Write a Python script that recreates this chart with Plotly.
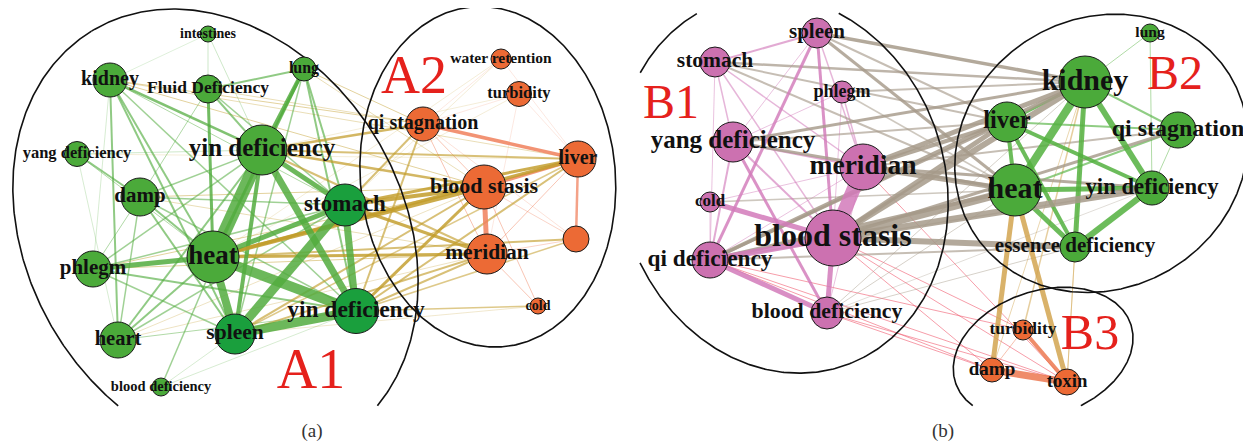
import numpy as np
import plotly.graph_objects as go

# ---------------- data: panel (a) ----------------
a_ids = ["int", "kid", "flu", "lun", "yang", "yint", "dam", "sto", "hea", "phl", "yinb", "spl", "hrt", "bld",
         "wat", "tur", "qis", "liv", "bst", "unk", "mer", "col"]
a_labels = ["intestines", "kidney", "Fluid Deficiency", "lung", "yang deficiency", "yin deficiency", "damp",
            "stomach", "heat", "phlegm", "yin deficiency", "spleen", "heart", "blood deficiency",
            "water retention", "turbidity", "qi stagnation", "liver", "blood stasis", "", "meridian", "cold"]
a_x = [208, 110, 208, 304, 77, 262, 140, 345, 213, 93, 356, 235, 118, 161, 501, 519, 423, 578, 484, 576, 487, 538]
a_y = [34, 80, 89, 69, 154, 150, 197, 205, 257, 269, 311, 334, 340, 387, 59, 94, 124, 159, 187, 239, 254, 306]
a_size = [8, 17, 14, 12, 12.5, 25, 19, 21, 26, 18, 22.5, 20, 18, 9, 10, 12.5, 17, 18, 22, 13, 20, 8]
a_group = ["g", "g", "g", "g", "g", "g", "g", "d", "g", "g", "d", "d", "g", "g",
           "o", "o", "o", "o", "o", "o", "o", "o"]

a_green_edges = [
    ("yint", "hea", 13), ("yint", "yinb", 7), ("yint", "sto", 5), ("yint", "spl", 4),
    ("hea", "spl", 8), ("hea", "yinb", 10), ("hea", "sto", 5), ("spl", "sto", 9), ("spl", "yinb", 9),
    ("sto", "yinb", 7), ("phl", "hea", 5), ("lun", "yint", 4), ("lun", "hea", 3), ("lun", "sto", 2),
    ("lun", "yinb", 2), ("lun", "spl", 1.5), ("lun", "flu", 2), ("flu", "hea", 3), ("flu", "yint", 2),
    ("flu", "sto", 1.5), ("flu", "dam", 1), ("kid", "yint", 2.5), ("kid", "hea", 2), ("kid", "hrt", 2),
    ("kid", "spl", 2), ("kid", "yinb", 1.5), ("kid", "sto", 1), ("dam", "hea", 2), ("dam", "yint", 1.5),
    ("dam", "spl", 2), ("dam", "yinb", 1.5), ("dam", "sto", 1.5), ("dam", "hrt", 1.5), ("dam", "phl", 1),
    ("phl", "yinb", 2), ("phl", "spl", 1.5), ("phl", "sto", 1.5), ("phl", "yint", 1.5), ("hrt", "hea", 2),
    ("hrt", "yint", 2), ("hrt", "sto", 1.5), ("hrt", "yinb", 1), ("yang", "dam", 2), ("yang", "hea", 1),
    ("yang", "yint", 0.7), ("bld", "yint", 1.5), ("bld", "spl", 0.6), ("bld", "yinb", 0.6),
    ("int", "flu", 0.7), ("int", "yint", 0.7), ("int", "kid", 0.5), ("kid", "phl", 0.6), ("yang", "hrt", 0.6),
]
a_cross_edges = [
    ("hea", "bst", 4), ("hea", "liv", 3.5), ("hea", "mer", 3), ("hea", "unk", 2), ("sto", "bst", 4),
    ("sto", "mer", 3), ("sto", "liv", 3), ("sto", "qis", 2), ("yinb", "bst", 3), ("yinb", "liv", 2),
    ("yinb", "mer", 2), ("yinb", "qis", 2), ("yinb", "col", 1.5), ("yinb", "unk", 1.5), ("yint", "qis", 2.5),
    ("yint", "bst", 2.5), ("yint", "liv", 2), ("yint", "mer", 2), ("spl", "bst", 2), ("spl", "mer", 2),
    ("spl", "liv", 1.5), ("kid", "qis", 1), ("kid", "bst", 1), ("kid", "liv", 0.8), ("flu", "qis", 0.8),
    ("lun", "qis", 1), ("lun", "bst", 0.8), ("phl", "bst", 1), ("phl", "mer", 1), ("dam", "bst", 1),
    ("dam", "mer", 0.8), ("hrt", "mer", 0.7), ("hrt", "bst", 0.7), ("yang", "liv", 0.5),
    ("yint", "tur", 0.5), ("hea", "tur", 0.5), ("sto", "wat", 0.5), ("hea", "wat", 0.5), ("spl", "col", 0.6),
]
a_orange_edges = [
    ("qis", "liv", 3.5), ("bst", "mer", 5), ("liv", "unk", 2.5), ("bst", "liv", 3), ("qis", "bst", 1),
    ("qis", "mer", 1), ("bst", "col", 1), ("mer", "col", 1), ("mer", "liv", 1), ("bst", "unk", 0.8),
    ("qis", "unk", 0.6), ("tur", "liv", 0.5), ("wat", "liv", 0.5), ("tur", "mer", 0.5), ("wat", "qis", 0.5),
    ("tur", "qis", 0.5), ("mer", "unk", 0.8),
]

# ---------------- data: panel (b) ----------------
b_ids = ["spl", "sto", "phl", "yang", "mer", "col", "bst", "qid", "bdf",
         "lun", "kid", "liv", "qis", "hea", "yin", "ess", "tur", "dam", "tox"]
b_labels = ["spleen", "stomach", "phlegm", "yang deficiency", "meridian", "cold", "blood stasis",
            "qi deficiency", "blood deficiency", "lung", "kidney", "liver", "qi stagnation", "heat",
            "yin deficiency", "essence deficiency", "turbidity", "damp", "toxin"]
b_x = [817, 715, 842, 733, 863, 710, 833, 710, 827, 1150, 1085, 1007, 1178, 1015, 1152, 1075, 1023, 992, 1067]
b_y = [33, 62, 92, 142, 167, 202, 238, 260, 313, 33, 82, 122, 130, 190, 188, 247, 330, 370, 382]
b_size = [15, 15, 11, 20, 23, 10, 28, 18, 16, 9, 26, 20, 18, 26, 17, 15, 10, 12, 13]
b_group = ["p"] * 9 + ["g"] * 7 + ["o"] * 3

b_pink_edges = [
    ("bst", "mer", 14), ("bst", "qid", 6), ("qid", "bdf", 5), ("bst", "bdf", 5), ("col", "bst", 5),
    ("spl", "qid", 3), ("spl", "bst", 3), ("yang", "bdf", 3), ("yang", "bst", 2), ("sto", "spl", 2),
    ("sto", "mer", 1.5), ("sto", "yang", 1.5), ("sto", "bst", 1.5), ("sto", "qid", 1), ("spl", "mer", 1.5),
    ("spl", "yang", 1), ("phl", "mer", 1.5), ("phl", "bst", 1), ("phl", "yang", 1), ("col", "qid", 1),
    ("col", "mer", 1), ("yang", "mer", 2), ("yang", "qid", 2), ("mer", "qid", 1), ("mer", "bdf", 1),
]
b_gray_edges = [
    ("bst", "hea", 8), ("bst", "kid", 6), ("bst", "liv", 5), ("bst", "yin", 7), ("bst", "ess", 6),
    ("mer", "kid", 5), ("mer", "hea", 5), ("mer", "liv", 4), ("mer", "yin", 3), ("qid", "kid", 4),
    ("qid", "hea", 4), ("qid", "liv", 3), ("spl", "kid", 3.5), ("spl", "hea", 3), ("spl", "liv", 2),
    ("sto", "kid", 2.5), ("sto", "hea", 2), ("sto", "liv", 2), ("yang", "kid", 3), ("yang", "hea", 3),
    ("yang", "liv", 2), ("phl", "kid", 2), ("phl", "hea", 1.5), ("col", "hea", 1.5), ("bdf", "kid", 1),
    ("bdf", "hea", 1), ("bdf", "ess", 1), ("bdf", "yin", 0.8), ("bst", "qis", 3), ("mer", "qis", 2),
    ("qid", "ess", 2), ("qid", "yin", 1.5),
]
b_green_edges = [
    ("kid", "hea", 8), ("kid", "yin", 6), ("kid", "ess", 5), ("hea", "ess", 5), ("hea", "yin", 5),
    ("liv", "hea", 4), ("liv", "kid", 3), ("liv", "ess", 4), ("liv", "yin", 4), ("ess", "yin", 6),
    ("liv", "qis", 2), ("hea", "qis", 2), ("qis", "yin", 1), ("lun", "kid", 1), ("lun", "yin", 1),
    ("kid", "qis", 2),
]
b_orange_edges = [("dam", "tox", 7), ("tur", "tox", 4), ("tur", "dam", 1)]
b_gold_edges = [("hea", "dam", 5), ("hea", "tox", 5), ("kid", "tur", 1.5), ("kid", "dam", 1),
                ("kid", "tox", 1), ("ess", "tox", 1)]
b_red_edges = [("bst", "tox", 0.8), ("bst", "dam", 0.8), ("qid", "tox", 0.8), ("qid", "dam", 0.8),
               ("mer", "tox", 0.8), ("bdf", "tox", 0.8), ("bdf", "dam", 0.8), ("bst", "tur", 0.8),
               ("qid", "tur", 0.8)]

group_names = ["A1", "A2", "B1", "B2", "B3"]
panel_names = ["(a)", "(b)"]

# ---------------- styling ----------------
W, H = 1251, 446
PAD = 8  # default page body margin; the figure starts 8px in from the window corner
SERIF = "Liberation Serif, Times New Roman, serif"
a_font = [14, 20, 17.5, 16, 16.5, 25, 21, 23, 27, 21, 23.5, 21.5, 20.5, 14.5, 15.5, 16.5, 20, 20, 22, 10, 21.5, 14]
b_font = [21, 21.5, 18, 25, 27.5, 17, 32, 23.3, 21.8, 15.5, 30, 24.4, 24, 30, 22.7, 21, 17.5, 19, 18.8]
node_colors = {"g": "#4baa3a", "d": "#1a9f3d", "o": "#ec6a35", "p": "#cc71b0"}
group_x = [311, 414, 671, 1175, 1090]
group_y = [374, 79, 106, 77, 336]
group_fs = [56, 54, 48, 48, 50]
panel_x = [312, 943]
panel_y = [432, 432]

fig = go.Figure()


def alpha_of(w):
    return min(0.85, 0.28 + 0.18 * w)


def edge_traces(ids, xs, ys, edges, rgb, alpha=None):
    pos = dict(zip(ids, zip(xs, ys)))
    out = []
    for s, t, w in edges:
        (x1, y1), (x2, y2) = pos[s], pos[t]
        a = alpha if alpha is not None else alpha_of(w)
        out.append((w, go.Scatter(x=[x1, x2], y=[y1, y2], mode="lines",
                                  line=dict(color=f"rgba({rgb},{a})", width=w),
                                  hoverinfo="skip", showlegend=False)))
    return out


all_edges = []
all_edges += edge_traces(a_ids, a_x, a_y, a_green_edges, "82,172,62")
all_edges += edge_traces(a_ids, a_x, a_y, a_cross_edges, "194,156,42")
all_edges += edge_traces(a_ids, a_x, a_y, a_orange_edges, "240,128,92")
all_edges += edge_traces(b_ids, b_x, b_y, b_pink_edges, "210,122,186")
all_edges += edge_traces(b_ids, b_x, b_y, b_gray_edges, "166,154,138")
all_edges += edge_traces(b_ids, b_x, b_y, b_green_edges, "82,176,62")
all_edges += edge_traces(b_ids, b_x, b_y, b_orange_edges, "236,120,80")
all_edges += edge_traces(b_ids, b_x, b_y, b_gold_edges, "210,165,80")
all_edges += edge_traces(b_ids, b_x, b_y, b_red_edges, "240,90,110", alpha=0.75)
for w, tr in sorted(all_edges, key=lambda e: e[0]):
    fig.add_trace(tr)


# ---------------- ellipses (fitted through boundary points) ----------------
def fit_ellipse(pts, n=600):
    P = np.asarray(pts, float)
    m = P.mean(0)
    s = P.std()
    Q = (P - m) / s
    x, y = Q[:, 0], Q[:, 1]
    D = np.column_stack([x * x, x * y, y * y, x, y, np.ones_like(x)])
    _, _, Vt = np.linalg.svd(D)
    A, B, C, Dd, E, F = Vt[-1]
    c = np.linalg.solve(np.array([[2 * A, B], [B, 2 * C]]), [-Dd, -E])
    Fp = A * c[0] ** 2 + B * c[0] * c[1] + C * c[1] ** 2 + Dd * c[0] + E * c[1] + F
    w, V = np.linalg.eigh(np.array([[A, B / 2], [B / 2, C]]))
    ax = np.sqrt(-Fp / w)
    t = np.linspace(0, 2 * np.pi, n)
    e = V @ np.vstack([ax[0] * np.cos(t), ax[1] * np.sin(t)])
    return (e.T + c) * s + m


def ellipse_trace(pts, clip):
    e = fit_ellipse(pts)
    x0, x1, y0, y1 = clip
    xs, ys = [], []
    for px, py in e:
        if x0 <= px <= x1 and y0 <= py <= y1:
            xs.append(px)
            ys.append(py)
        else:
            xs.append(None)
            ys.append(None)
    return go.Scatter(x=xs, y=ys, mode="lines", line=dict(color="#111", width=1.6),
                      hoverinfo="skip", showlegend=False, connectgaps=False)


A1_pts = [(25, 115), (80, 45), (150, 10), (250, 23), (367, 115), (392, 200), (423, 290), (412, 330),
          (397, 375), (380, 407), (127, 407), (77, 367), (37, 300), (12, 210)]
A2_pts = [(367, 100), (393, 43), (433, 27), (490, 20), (583, 50), (608, 150), (607, 233), (583, 300),
          (557, 330), (490, 345), (430, 330), (400, 283), (370, 233), (360, 167)]
B1_pts = [(640, 70), (663, 37), (710, 10), (847, 20), (943, 133), (943, 180), (930, 280), (903, 330),
          (797, 372), (697, 340), (643, 260)]
B2_pts = [(1023, 43), (1090, 20), (1140, 15), (1190, 27), (1230, 83), (1243, 133), (1233, 200),
          (1207, 250), (1140, 283), (1073, 287), (1007, 267), (960, 217), (957, 150), (980, 87)]
B3_pts = [(957, 370), (970, 327), (1013, 297), (1080, 290), (1117, 303), (1133, 333), (1123, 370),
          (1090, 400), (963, 400)]

for pts, clip in [(A1_pts, (0, 628, 0, 407)), (A2_pts, (0, 628, 0, 407)),
                  (B1_pts, (640, W, 13, 406)), (B2_pts, (640, W, 9, 406)), (B3_pts, (640, W, 9, 406))]:
    fig.add_trace(ellipse_trace(pts, clip))

# ---------------- nodes ----------------
for xs, ys, sz, grp in [(a_x, a_y, a_size, a_group), (b_x, b_y, b_size, b_group)]:
    fig.add_trace(go.Scatter(
        x=xs, y=ys, mode="markers",
        marker=dict(size=[2 * r for r in sz], color=[node_colors[g] for g in grp],
                    line=dict(color="#1a1a1a", width=1), opacity=1),
        hoverinfo="skip", showlegend=False))

# ---------------- labels ----------------
for xs, ys, labs, fs in [(a_x, a_y, a_labels, a_font), (b_x, b_y, b_labels, b_font)]:
    fig.add_trace(go.Scatter(
        x=xs, y=ys, mode="text",
        text=[f"<b>{l}</b>" if l else "" for l in labs],
        textposition="middle center",
        textfont=dict(family=SERIF, size=fs, color="#111111"),
        hoverinfo="skip", showlegend=False))

fig.add_trace(go.Scatter(x=group_x, y=group_y, mode="text", text=group_names,
                         textposition="middle center",
                         textfont=dict(family=SERIF, size=group_fs, color="#e5211c"),
                         hoverinfo="skip", showlegend=False))

fig.add_trace(go.Scatter(x=panel_x, y=panel_y, mode="text", text=panel_names,
                         textposition="middle center",
                         textfont=dict(family=SERIF, size=19, color="#333333"),
                         hoverinfo="skip", showlegend=False))

fig.update_layout(
    width=W - PAD, height=H - PAD, margin=dict(l=0, r=0, t=0, b=0),
    paper_bgcolor="white", plot_bgcolor="white", showlegend=False,
    xaxis=dict(range=[PAD, W], visible=False, fixedrange=True),
    yaxis=dict(range=[H, PAD], visible=False, fixedrange=True),
)
fig.write_html("out.html")
